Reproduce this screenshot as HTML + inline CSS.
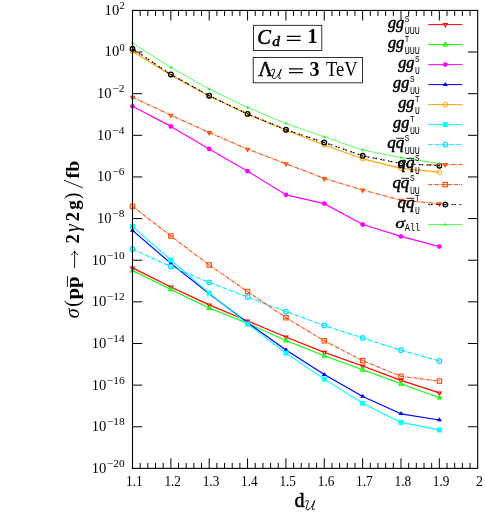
<!DOCTYPE html>
<html><head><meta charset="utf-8"><title>plot</title>
<style>
html,body{margin:0;padding:0;background:#fff;}
body{width:485px;height:512px;overflow:hidden;}
svg{display:block;will-change:transform;}
text{font-family:"Liberation Serif",serif;fill:#000;}
.tt{font-family:"Liberation Mono",monospace;}
.bi{font-weight:bold;font-style:italic;}
.b{font-weight:bold;}
.i{font-style:italic;}
.sb{stroke:#000;stroke-width:0.55px;}
.sb2{stroke:#000;stroke-width:0.5px;}
.sb3{stroke:#000;stroke-width:0.35px;}
</style></head><body>
<svg width="485" height="512" viewBox="0 0 485 512">
<rect x="0" y="0" width="485" height="512" fill="#ffffff"/>

<path d="M132.5,52.04 h9.7 M477.7,52.04 h-9.7 M132.5,93.67 h9.7 M477.7,93.67 h-9.7 M132.5,135.31 h9.7 M477.7,135.31 h-9.7 M132.5,176.95 h9.7 M477.7,176.95 h-9.7 M132.5,218.58 h9.7 M477.7,218.58 h-9.7 M132.5,260.22 h9.7 M477.7,260.22 h-9.7 M132.5,301.85 h9.7 M477.7,301.85 h-9.7 M132.5,343.49 h9.7 M477.7,343.49 h-9.7 M132.5,385.13 h9.7 M477.7,385.13 h-9.7 M132.5,426.76 h9.7 M477.7,426.76 h-9.7 M140.17,468.4 v-5.5 M140.17,10.4 v5.5 M147.84,468.4 v-5.5 M147.84,10.4 v5.5 M155.51,468.4 v-5.5 M155.51,10.4 v5.5 M163.18,468.4 v-5.5 M163.18,10.4 v5.5 M170.86,468.4 v-10.1 M170.86,10.4 v10.1 M178.53,468.4 v-5.5 M178.53,10.4 v5.5 M186.20,468.4 v-5.5 M186.20,10.4 v5.5 M193.87,468.4 v-5.5 M193.87,10.4 v5.5 M201.54,468.4 v-5.5 M201.54,10.4 v5.5 M209.21,468.4 v-10.1 M209.21,10.4 v10.1 M216.88,468.4 v-5.5 M216.88,10.4 v5.5 M224.55,468.4 v-5.5 M224.55,10.4 v5.5 M232.22,468.4 v-5.5 M232.22,10.4 v5.5 M239.90,468.4 v-5.5 M239.90,10.4 v5.5 M247.57,468.4 v-10.1 M247.57,10.4 v10.1 M255.24,468.4 v-5.5 M255.24,10.4 v5.5 M262.91,468.4 v-5.5 M262.91,10.4 v5.5 M270.58,468.4 v-5.5 M270.58,10.4 v5.5 M278.25,468.4 v-5.5 M278.25,10.4 v5.5 M285.92,468.4 v-10.1 M285.92,10.4 v10.1 M293.59,468.4 v-5.5 M293.59,10.4 v5.5 M301.26,468.4 v-5.5 M301.26,10.4 v5.5 M308.94,468.4 v-5.5 M308.94,10.4 v5.5 M316.61,468.4 v-5.5 M316.61,10.4 v5.5 M324.28,468.4 v-10.1 M324.28,10.4 v10.1 M331.95,468.4 v-5.5 M331.95,10.4 v5.5 M339.62,468.4 v-5.5 M339.62,10.4 v5.5 M347.29,468.4 v-5.5 M347.29,10.4 v5.5 M354.96,468.4 v-5.5 M354.96,10.4 v5.5 M362.63,468.4 v-10.1 M362.63,10.4 v10.1 M370.30,468.4 v-5.5 M370.30,10.4 v5.5 M377.98,468.4 v-5.5 M377.98,10.4 v5.5 M385.65,468.4 v-5.5 M385.65,10.4 v5.5 M393.32,468.4 v-5.5 M393.32,10.4 v5.5 M400.99,468.4 v-10.1 M400.99,10.4 v10.1 M408.66,468.4 v-5.5 M408.66,10.4 v5.5 M416.33,468.4 v-5.5 M416.33,10.4 v5.5 M424.00,468.4 v-5.5 M424.00,10.4 v5.5 M431.67,468.4 v-5.5 M431.67,10.4 v5.5 M439.34,468.4 v-10.1 M439.34,10.4 v10.1 M447.02,468.4 v-5.5 M447.02,10.4 v5.5 M454.69,468.4 v-5.5 M454.69,10.4 v5.5 M462.36,468.4 v-5.5 M462.36,10.4 v5.5 M470.03,468.4 v-5.5 M470.03,10.4 v5.5" stroke="#000" stroke-width="1" fill="none"/>
<polyline points="132.5,267.9 170.9,287.0 209.2,304.9 247.6,321.0 286.0,337.0 324.3,352.3 362.7,366.0 401.0,380.3 439.4,392.9" fill="none" stroke="#ff0000" stroke-width="1.25" stroke-linejoin="round"/>
<path d="M129.60,266.40 L135.40,266.40 L132.50,271.30 Z" fill="#ff0000"/><path d="M131.63,267.54 L133.37,267.54 L132.50,269.01 Z" fill="#ffc0c0"/>
<path d="M168.00,285.50 L173.80,285.50 L170.90,290.40 Z" fill="#ff0000"/><path d="M170.03,286.64 L171.77,286.64 L170.90,288.11 Z" fill="#ffc0c0"/>
<path d="M206.30,303.40 L212.10,303.40 L209.20,308.30 Z" fill="#ff0000"/><path d="M208.33,304.54 L210.07,304.54 L209.20,306.01 Z" fill="#ffc0c0"/>
<path d="M244.70,319.50 L250.50,319.50 L247.60,324.40 Z" fill="#ff0000"/><path d="M246.73,320.64 L248.47,320.64 L247.60,322.11 Z" fill="#ffc0c0"/>
<path d="M283.10,335.50 L288.90,335.50 L286.00,340.40 Z" fill="#ff0000"/><path d="M285.13,336.64 L286.87,336.64 L286.00,338.11 Z" fill="#ffc0c0"/>
<path d="M321.40,350.80 L327.20,350.80 L324.30,355.70 Z" fill="#ff0000"/><path d="M323.43,351.94 L325.17,351.94 L324.30,353.41 Z" fill="#ffc0c0"/>
<path d="M359.80,364.50 L365.60,364.50 L362.70,369.40 Z" fill="#ff0000"/><path d="M361.83,365.64 L363.57,365.64 L362.70,367.11 Z" fill="#ffc0c0"/>
<path d="M398.10,378.80 L403.90,378.80 L401.00,383.70 Z" fill="#ff0000"/><path d="M400.13,379.94 L401.87,379.94 L401.00,381.41 Z" fill="#ffc0c0"/>
<path d="M436.50,391.40 L442.30,391.40 L439.40,396.30 Z" fill="#ff0000"/><path d="M438.53,392.54 L440.27,392.54 L439.40,394.01 Z" fill="#ffc0c0"/>
<polyline points="132.5,270.6 170.9,289.4 209.2,308.1 247.6,323.4 286.0,340.5 324.3,355.8 362.7,369.8 401.0,383.8 439.4,397.7" fill="none" stroke="#00ff00" stroke-width="1.1" stroke-linejoin="round"/>
<path d="M129.60,272.50 L135.40,272.50 L132.50,267.10 Z" fill="#00ff00"/><path d="M131.63,271.24 L133.37,271.24 L132.50,269.62 Z" fill="#c0ffc0"/>
<path d="M168.00,291.30 L173.80,291.30 L170.90,285.90 Z" fill="#00ff00"/><path d="M170.03,290.04 L171.77,290.04 L170.90,288.42 Z" fill="#c0ffc0"/>
<path d="M206.30,310.00 L212.10,310.00 L209.20,304.60 Z" fill="#00ff00"/><path d="M208.33,308.74 L210.07,308.74 L209.20,307.12 Z" fill="#c0ffc0"/>
<path d="M244.70,325.30 L250.50,325.30 L247.60,319.90 Z" fill="#00ff00"/><path d="M246.73,324.04 L248.47,324.04 L247.60,322.42 Z" fill="#c0ffc0"/>
<path d="M283.10,342.40 L288.90,342.40 L286.00,337.00 Z" fill="#00ff00"/><path d="M285.13,341.14 L286.87,341.14 L286.00,339.52 Z" fill="#c0ffc0"/>
<path d="M321.40,357.70 L327.20,357.70 L324.30,352.30 Z" fill="#00ff00"/><path d="M323.43,356.44 L325.17,356.44 L324.30,354.82 Z" fill="#c0ffc0"/>
<path d="M359.80,371.70 L365.60,371.70 L362.70,366.30 Z" fill="#00ff00"/><path d="M361.83,370.44 L363.57,370.44 L362.70,368.82 Z" fill="#c0ffc0"/>
<path d="M398.10,385.70 L403.90,385.70 L401.00,380.30 Z" fill="#00ff00"/><path d="M400.13,384.44 L401.87,384.44 L401.00,382.82 Z" fill="#c0ffc0"/>
<path d="M436.50,399.60 L442.30,399.60 L439.40,394.20 Z" fill="#00ff00"/><path d="M438.53,398.34 L440.27,398.34 L439.40,396.72 Z" fill="#c0ffc0"/>
<polyline points="132.5,106.3 170.9,126.4 209.2,148.9 247.6,171.2 286.0,194.8 324.3,203.6 362.7,224.5 401.0,236.4 439.4,246.6" fill="none" stroke="#ff00ff" stroke-width="1.2" stroke-linejoin="round"/>
<circle cx="132.5" cy="106.3" r="2.4" fill="#ff00ff"/>
<circle cx="170.9" cy="126.4" r="2.4" fill="#ff00ff"/>
<circle cx="209.2" cy="148.9" r="2.4" fill="#ff00ff"/>
<circle cx="247.6" cy="171.2" r="2.4" fill="#ff00ff"/>
<circle cx="286.0" cy="194.8" r="2.4" fill="#ff00ff"/>
<circle cx="324.3" cy="203.6" r="2.4" fill="#ff00ff"/>
<circle cx="362.7" cy="224.5" r="2.4" fill="#ff00ff"/>
<circle cx="401.0" cy="236.4" r="2.4" fill="#ff00ff"/>
<circle cx="439.4" cy="246.6" r="2.4" fill="#ff00ff"/>
<polyline points="132.5,230.4 170.9,263.4 209.2,293.7 247.6,322.7 286.0,349.9 324.3,374.6 362.7,396.5 401.0,413.8 439.4,420.0" fill="none" stroke="#0000ff" stroke-width="1.2" stroke-linejoin="round"/>
<path d="M129.90,231.70 L135.10,231.70 L132.50,227.70 Z" fill="#0000ff"/>
<path d="M168.30,264.70 L173.50,264.70 L170.90,260.70 Z" fill="#0000ff"/>
<path d="M206.60,295.00 L211.80,295.00 L209.20,291.00 Z" fill="#0000ff"/>
<path d="M245.00,324.00 L250.20,324.00 L247.60,320.00 Z" fill="#0000ff"/>
<path d="M283.40,351.20 L288.60,351.20 L286.00,347.20 Z" fill="#0000ff"/>
<path d="M321.70,375.90 L326.90,375.90 L324.30,371.90 Z" fill="#0000ff"/>
<path d="M360.10,397.80 L365.30,397.80 L362.70,393.80 Z" fill="#0000ff"/>
<path d="M398.40,415.10 L403.60,415.10 L401.00,411.10 Z" fill="#0000ff"/>
<path d="M436.80,421.30 L442.00,421.30 L439.40,417.30 Z" fill="#0000ff"/>
<polyline points="132.5,51.4 170.9,75.0 209.2,96.0 247.6,114.3 286.0,130.2 324.3,145.0 362.7,158.8 401.0,168.3 439.4,172.1" fill="none" stroke="#ffa500" stroke-width="1.2" stroke-linejoin="round"/>
<circle cx="132.5" cy="51.4" r="2.35" fill="none" stroke="#ffa500" stroke-width="1"/>
<circle cx="170.9" cy="75.0" r="2.35" fill="none" stroke="#ffa500" stroke-width="1"/>
<circle cx="209.2" cy="96.0" r="2.35" fill="none" stroke="#ffa500" stroke-width="1"/>
<circle cx="247.6" cy="114.3" r="2.35" fill="none" stroke="#ffa500" stroke-width="1"/>
<circle cx="286.0" cy="130.2" r="2.35" fill="none" stroke="#ffa500" stroke-width="1"/>
<circle cx="324.3" cy="145.0" r="2.35" fill="none" stroke="#ffa500" stroke-width="1"/>
<circle cx="362.7" cy="158.8" r="2.35" fill="none" stroke="#ffa500" stroke-width="1"/>
<circle cx="401.0" cy="168.3" r="2.35" fill="none" stroke="#ffa500" stroke-width="1"/>
<circle cx="439.4" cy="172.1" r="2.35" fill="none" stroke="#ffa500" stroke-width="1"/>
<polyline points="132.5,226.4 170.9,260.1 209.2,293.1 247.6,324.0 286.0,353.1 324.3,379.1 362.7,403.3 401.0,422.4 439.4,429.9" fill="none" stroke="#00ffff" stroke-width="1.1" stroke-linejoin="round"/>
<rect x="130.0" y="223.9" width="5" height="5" fill="#00ffff"/>
<rect x="168.4" y="257.6" width="5" height="5" fill="#00ffff"/>
<rect x="206.7" y="290.6" width="5" height="5" fill="#00ffff"/>
<rect x="245.1" y="321.5" width="5" height="5" fill="#00ffff"/>
<rect x="283.5" y="350.6" width="5" height="5" fill="#00ffff"/>
<rect x="321.8" y="376.6" width="5" height="5" fill="#00ffff"/>
<rect x="360.2" y="400.8" width="5" height="5" fill="#00ffff"/>
<rect x="398.5" y="419.9" width="5" height="5" fill="#00ffff"/>
<rect x="436.9" y="427.4" width="5" height="5" fill="#00ffff"/>
<polyline points="132.5,249.2 170.9,266.6 209.2,282.4 247.6,297.1 286.0,311.6 324.3,325.5 362.7,338.0 401.0,350.3 439.4,361.0" fill="none" stroke="#00e5ff" stroke-width="1.15" stroke-dasharray="4.2 1 0.8 1" stroke-linejoin="round"/>
<circle cx="132.5" cy="249.2" r="2.35" fill="none" stroke="#00e5ff" stroke-width="1.2"/><circle cx="132.5" cy="249.2" r="0.7" fill="#00e5ff"/>
<circle cx="170.9" cy="266.6" r="2.35" fill="none" stroke="#00e5ff" stroke-width="1.2"/><circle cx="170.9" cy="266.6" r="0.7" fill="#00e5ff"/>
<circle cx="209.2" cy="282.4" r="2.35" fill="none" stroke="#00e5ff" stroke-width="1.2"/><circle cx="209.2" cy="282.4" r="0.7" fill="#00e5ff"/>
<circle cx="247.6" cy="297.1" r="2.35" fill="none" stroke="#00e5ff" stroke-width="1.2"/><circle cx="247.6" cy="297.1" r="0.7" fill="#00e5ff"/>
<circle cx="286.0" cy="311.6" r="2.35" fill="none" stroke="#00e5ff" stroke-width="1.2"/><circle cx="286.0" cy="311.6" r="0.7" fill="#00e5ff"/>
<circle cx="324.3" cy="325.5" r="2.35" fill="none" stroke="#00e5ff" stroke-width="1.2"/><circle cx="324.3" cy="325.5" r="0.7" fill="#00e5ff"/>
<circle cx="362.7" cy="338.0" r="2.35" fill="none" stroke="#00e5ff" stroke-width="1.2"/><circle cx="362.7" cy="338.0" r="0.7" fill="#00e5ff"/>
<circle cx="401.0" cy="350.3" r="2.35" fill="none" stroke="#00e5ff" stroke-width="1.2"/><circle cx="401.0" cy="350.3" r="0.7" fill="#00e5ff"/>
<circle cx="439.4" cy="361.0" r="2.35" fill="none" stroke="#00e5ff" stroke-width="1.2"/><circle cx="439.4" cy="361.0" r="0.7" fill="#00e5ff"/>
<polyline points="132.5,97.3 170.9,115.2 209.2,132.5 247.6,149.2 286.0,163.7 324.3,178.5 362.7,190.0 401.0,200.2 439.4,203.7" fill="none" stroke="#ff4500" stroke-width="1.1" stroke-dasharray="4.2 0.7 0.7 0.7 0.7 0.7" stroke-linejoin="round"/>
<path d="M129.60,95.80 L135.40,95.80 L132.50,100.70 Z" fill="#ff4500"/><path d="M131.63,96.94 L133.37,96.94 L132.50,98.41 Z" fill="#ffa070"/>
<path d="M168.00,113.70 L173.80,113.70 L170.90,118.60 Z" fill="#ff4500"/><path d="M170.03,114.84 L171.77,114.84 L170.90,116.31 Z" fill="#ffa070"/>
<path d="M206.30,131.00 L212.10,131.00 L209.20,135.90 Z" fill="#ff4500"/><path d="M208.33,132.14 L210.07,132.14 L209.20,133.61 Z" fill="#ffa070"/>
<path d="M244.70,147.70 L250.50,147.70 L247.60,152.60 Z" fill="#ff4500"/><path d="M246.73,148.84 L248.47,148.84 L247.60,150.31 Z" fill="#ffa070"/>
<path d="M283.10,162.20 L288.90,162.20 L286.00,167.10 Z" fill="#ff4500"/><path d="M285.13,163.34 L286.87,163.34 L286.00,164.81 Z" fill="#ffa070"/>
<path d="M321.40,177.00 L327.20,177.00 L324.30,181.90 Z" fill="#ff4500"/><path d="M323.43,178.14 L325.17,178.14 L324.30,179.61 Z" fill="#ffa070"/>
<path d="M359.80,188.50 L365.60,188.50 L362.70,193.40 Z" fill="#ff4500"/><path d="M361.83,189.64 L363.57,189.64 L362.70,191.11 Z" fill="#ffa070"/>
<path d="M398.10,198.70 L403.90,198.70 L401.00,203.60 Z" fill="#ff4500"/><path d="M400.13,199.84 L401.87,199.84 L401.00,201.31 Z" fill="#ffa070"/>
<path d="M436.50,202.20 L442.30,202.20 L439.40,207.10 Z" fill="#ff4500"/><path d="M438.53,203.34 L440.27,203.34 L439.40,204.81 Z" fill="#ffa070"/>
<polyline points="132.5,206.3 170.9,236.0 209.2,265.0 247.6,291.6 286.0,317.7 324.3,340.8 362.7,360.7 401.0,376.3 439.4,381.1" fill="none" stroke="#ff4500" stroke-width="1.05" stroke-dasharray="3.8 0.9 0.9 0.9" stroke-linejoin="round"/>
<rect x="130.3" y="204.1" width="4.4" height="4.4" fill="none" stroke="#ff4500" stroke-width="1.1"/><circle cx="132.5" cy="206.3" r="0.7" fill="#ff4500"/>
<rect x="168.7" y="233.8" width="4.4" height="4.4" fill="none" stroke="#ff4500" stroke-width="1.1"/><circle cx="170.9" cy="236.0" r="0.7" fill="#ff4500"/>
<rect x="207.0" y="262.8" width="4.4" height="4.4" fill="none" stroke="#ff4500" stroke-width="1.1"/><circle cx="209.2" cy="265.0" r="0.7" fill="#ff4500"/>
<rect x="245.4" y="289.4" width="4.4" height="4.4" fill="none" stroke="#ff4500" stroke-width="1.1"/><circle cx="247.6" cy="291.6" r="0.7" fill="#ff4500"/>
<rect x="283.8" y="315.5" width="4.4" height="4.4" fill="none" stroke="#ff4500" stroke-width="1.1"/><circle cx="286.0" cy="317.7" r="0.7" fill="#ff4500"/>
<rect x="322.1" y="338.6" width="4.4" height="4.4" fill="none" stroke="#ff4500" stroke-width="1.1"/><circle cx="324.3" cy="340.8" r="0.7" fill="#ff4500"/>
<rect x="360.5" y="358.5" width="4.4" height="4.4" fill="none" stroke="#ff4500" stroke-width="1.1"/><circle cx="362.7" cy="360.7" r="0.7" fill="#ff4500"/>
<rect x="398.8" y="374.1" width="4.4" height="4.4" fill="none" stroke="#ff4500" stroke-width="1.1"/><circle cx="401.0" cy="376.3" r="0.7" fill="#ff4500"/>
<rect x="437.2" y="378.9" width="4.4" height="4.4" fill="none" stroke="#ff4500" stroke-width="1.1"/><circle cx="439.4" cy="381.1" r="0.7" fill="#ff4500"/>
<polyline points="132.5,48.8 170.9,74.5 209.2,95.7 247.6,113.9 286.0,129.7 324.3,142.5 362.7,155.8 401.0,163.5 439.4,165.7" fill="none" stroke="#000000" stroke-width="1.2" stroke-dasharray="1.8 0.8 1.8 3.4" stroke-linejoin="round"/>
<circle cx="132.5" cy="48.8" r="2.3" fill="none" stroke="#000000" stroke-width="1.3"/><circle cx="132.5" cy="48.8" r="0.7" fill="#000000"/>
<circle cx="170.9" cy="74.5" r="2.3" fill="none" stroke="#000000" stroke-width="1.3"/><circle cx="170.9" cy="74.5" r="0.7" fill="#000000"/>
<circle cx="209.2" cy="95.7" r="2.3" fill="none" stroke="#000000" stroke-width="1.3"/><circle cx="209.2" cy="95.7" r="0.7" fill="#000000"/>
<circle cx="247.6" cy="113.9" r="2.3" fill="none" stroke="#000000" stroke-width="1.3"/><circle cx="247.6" cy="113.9" r="0.7" fill="#000000"/>
<circle cx="286.0" cy="129.7" r="2.3" fill="none" stroke="#000000" stroke-width="1.3"/><circle cx="286.0" cy="129.7" r="0.7" fill="#000000"/>
<circle cx="324.3" cy="142.5" r="2.3" fill="none" stroke="#000000" stroke-width="1.3"/><circle cx="324.3" cy="142.5" r="0.7" fill="#000000"/>
<circle cx="362.7" cy="155.8" r="2.3" fill="none" stroke="#000000" stroke-width="1.3"/><circle cx="362.7" cy="155.8" r="0.7" fill="#000000"/>
<circle cx="401.0" cy="163.5" r="2.3" fill="none" stroke="#000000" stroke-width="1.3"/><circle cx="401.0" cy="163.5" r="0.7" fill="#000000"/>
<circle cx="439.4" cy="165.7" r="2.3" fill="none" stroke="#000000" stroke-width="1.3"/><circle cx="439.4" cy="165.7" r="0.7" fill="#000000"/>
<polyline points="132.5,42.9 170.9,67.5 209.2,89.0 247.6,107.5 286.0,123.5 324.3,136.9 362.7,150.0 401.0,157.6 439.4,163.5" fill="none" stroke="#00ff00" stroke-width="0.65" stroke-linejoin="round"/>
<path d="M131.0,42.9 H134.0 M132.5,41.4 V44.4" stroke="#00ff00" stroke-width="0.8" fill="none"/>
<path d="M169.4,67.5 H172.4 M170.9,66.0 V69.0" stroke="#00ff00" stroke-width="0.8" fill="none"/>
<path d="M207.7,89.0 H210.7 M209.2,87.5 V90.5" stroke="#00ff00" stroke-width="0.8" fill="none"/>
<path d="M246.1,107.5 H249.1 M247.6,106.0 V109.0" stroke="#00ff00" stroke-width="0.8" fill="none"/>
<path d="M284.5,123.5 H287.5 M286.0,122.0 V125.0" stroke="#00ff00" stroke-width="0.8" fill="none"/>
<path d="M322.8,136.9 H325.8 M324.3,135.4 V138.4" stroke="#00ff00" stroke-width="0.8" fill="none"/>
<path d="M361.2,150.0 H364.2 M362.7,148.5 V151.5" stroke="#00ff00" stroke-width="0.8" fill="none"/>
<path d="M399.5,157.6 H402.5 M401.0,156.1 V159.1" stroke="#00ff00" stroke-width="0.8" fill="none"/>
<path d="M437.9,163.5 H440.9 M439.4,162.0 V165.0" stroke="#00ff00" stroke-width="0.8" fill="none"/>
<rect x="132.5" y="10.4" width="345.2" height="458.0" fill="none" stroke="#000" stroke-width="1.1"/>
<path d="M428.3,24.6 H462.3" stroke="#ff0000" stroke-width="1.0" fill="none"/>
<path d="M442.40,23.10 L448.20,23.10 L445.30,28.00 Z" fill="#ff0000"/><path d="M444.43,24.24 L446.17,24.24 L445.30,25.71 Z" fill="#ffc0c0"/>
<text x="404.1" y="28.4" text-anchor="end" class="i sb2" font-size="16.4" textLength="16.2" lengthAdjust="spacingAndGlyphs">gg</text>
<text x="404.8" y="22.4" class="tt" font-size="9.5" textLength="4.6" lengthAdjust="spacingAndGlyphs">S</text>
<text x="404.8" y="33.5" class="tt" font-size="10.5" textLength="15.1" lengthAdjust="spacingAndGlyphs">UUU</text>
<path d="M428.3,44.6 H462.3" stroke="#00ff00" stroke-width="1.0" fill="none"/>
<path d="M442.40,46.50 L448.20,46.50 L445.30,41.10 Z" fill="#00ff00"/><path d="M444.43,45.24 L446.17,45.24 L445.30,43.62 Z" fill="#c0ffc0"/>
<text x="404.1" y="48.4" text-anchor="end" class="i sb2" font-size="16.4" textLength="16.2" lengthAdjust="spacingAndGlyphs">gg</text>
<text x="404.8" y="42.4" class="tt" font-size="9.5" textLength="4.6" lengthAdjust="spacingAndGlyphs">T</text>
<text x="404.8" y="53.5" class="tt" font-size="10.5" textLength="15.1" lengthAdjust="spacingAndGlyphs">UUU</text>
<path d="M428.3,64.6 H462.3" stroke="#ff00ff" stroke-width="1.0" fill="none"/>
<circle cx="445.3" cy="64.6" r="2.4" fill="#ff00ff"/>
<text x="414.4" y="68.4" text-anchor="end" class="i sb2" font-size="16.4" textLength="16.2" lengthAdjust="spacingAndGlyphs">gg</text>
<text x="415.1" y="62.4" class="tt" font-size="9.5" textLength="4.6" lengthAdjust="spacingAndGlyphs">S</text>
<text x="415.1" y="73.5" class="tt" font-size="10.5" textLength="4.8" lengthAdjust="spacingAndGlyphs">U</text>
<path d="M428.3,84.6 H462.3" stroke="#0000ff" stroke-width="1.0" fill="none"/>
<path d="M442.70,85.90 L447.90,85.90 L445.30,81.90 Z" fill="#0000ff"/>
<text x="409.3" y="88.4" text-anchor="end" class="i sb2" font-size="16.4" textLength="16.2" lengthAdjust="spacingAndGlyphs">gg</text>
<text x="409.9" y="82.4" class="tt" font-size="9.5" textLength="4.6" lengthAdjust="spacingAndGlyphs">S</text>
<text x="409.9" y="93.5" class="tt" font-size="10.5" textLength="9.9" lengthAdjust="spacingAndGlyphs">UU</text>
<path d="M428.3,104.6 H462.3" stroke="#ffa500" stroke-width="1.0" fill="none"/>
<circle cx="445.3" cy="104.6" r="2.35" fill="none" stroke="#ffa500" stroke-width="1"/>
<text x="414.4" y="108.4" text-anchor="end" class="i sb2" font-size="16.4" textLength="16.2" lengthAdjust="spacingAndGlyphs">gg</text>
<text x="415.1" y="102.4" class="tt" font-size="9.5" textLength="4.6" lengthAdjust="spacingAndGlyphs">T</text>
<text x="415.1" y="113.5" class="tt" font-size="10.5" textLength="4.8" lengthAdjust="spacingAndGlyphs">U</text>
<path d="M428.3,124.6 H462.3" stroke="#00ffff" stroke-width="1.0" fill="none"/>
<rect x="442.8" y="122.1" width="5" height="5" fill="#00ffff"/>
<text x="409.3" y="128.4" text-anchor="end" class="i sb2" font-size="16.4" textLength="16.2" lengthAdjust="spacingAndGlyphs">gg</text>
<text x="409.9" y="122.4" class="tt" font-size="9.5" textLength="4.6" lengthAdjust="spacingAndGlyphs">T</text>
<text x="409.9" y="133.5" class="tt" font-size="10.5" textLength="9.9" lengthAdjust="spacingAndGlyphs">UU</text>
<path d="M428.3,144.6 H462.3" stroke="#00e5ff" stroke-width="1.0" stroke-dasharray="4.2 1 0.8 1" fill="none"/>
<circle cx="445.3" cy="144.6" r="2.35" fill="none" stroke="#00e5ff" stroke-width="1.2"/><circle cx="445.3" cy="144.6" r="0.7" fill="#00e5ff"/>
<text x="404.1" y="148.2" text-anchor="end" class="i sb2" font-size="17" textLength="16.9" lengthAdjust="spacingAndGlyphs">qq</text>
<path d="M396.1,138.3 h7.9" stroke="#000" stroke-width="0.85"/>
<text x="404.8" y="141.1" class="tt" font-size="9.5" textLength="4.6" lengthAdjust="spacingAndGlyphs">S</text>
<text x="404.8" y="153.5" class="tt" font-size="10.5" textLength="15.1" lengthAdjust="spacingAndGlyphs">UUU</text>
<path d="M428.3,164.6 H462.3" stroke="#ff4500" stroke-width="1.0" stroke-dasharray="4.2 0.7 0.7 0.7 0.7 0.7" fill="none"/>
<path d="M442.40,163.10 L448.20,163.10 L445.30,168.00 Z" fill="#ff4500"/><path d="M444.43,164.24 L446.17,164.24 L445.30,165.71 Z" fill="#ffa070"/>
<text x="414.4" y="168.2" text-anchor="end" class="i sb2" font-size="17" textLength="16.9" lengthAdjust="spacingAndGlyphs">qq</text>
<path d="M406.4,158.3 h7.9" stroke="#000" stroke-width="0.85"/>
<text x="415.1" y="161.1" class="tt" font-size="9.5" textLength="4.6" lengthAdjust="spacingAndGlyphs">S</text>
<text x="415.1" y="173.5" class="tt" font-size="10.5" textLength="4.8" lengthAdjust="spacingAndGlyphs">U</text>
<path d="M428.3,184.6 H462.3" stroke="#ff4500" stroke-width="1.0" stroke-dasharray="3.8 0.9 0.9 0.9" fill="none"/>
<rect x="443.1" y="182.4" width="4.4" height="4.4" fill="none" stroke="#ff4500" stroke-width="1.1"/><circle cx="445.3" cy="184.6" r="0.7" fill="#ff4500"/>
<text x="409.3" y="188.2" text-anchor="end" class="i sb2" font-size="17" textLength="16.9" lengthAdjust="spacingAndGlyphs">qq</text>
<path d="M401.3,178.3 h7.9" stroke="#000" stroke-width="0.85"/>
<text x="409.9" y="181.1" class="tt" font-size="9.5" textLength="4.6" lengthAdjust="spacingAndGlyphs">S</text>
<text x="409.9" y="193.5" class="tt" font-size="10.5" textLength="9.9" lengthAdjust="spacingAndGlyphs">UU</text>
<path d="M428.3,204.6 H462.3" stroke="#000000" stroke-width="1.0" stroke-dasharray="1.8 0.8 1.8 3.4" fill="none"/>
<circle cx="445.3" cy="204.6" r="2.3" fill="none" stroke="#000000" stroke-width="1.3"/><circle cx="445.3" cy="204.6" r="0.7" fill="#000000"/>
<text x="414.4" y="208.2" text-anchor="end" class="i sb2" font-size="17" textLength="16.9" lengthAdjust="spacingAndGlyphs">qq</text>
<path d="M406.4,198.3 h7.9" stroke="#000" stroke-width="0.85"/>
<text x="415.1" y="201.1" class="tt" font-size="9.5" textLength="4.6" lengthAdjust="spacingAndGlyphs">T</text>
<text x="415.1" y="213.5" class="tt" font-size="10.5" textLength="4.8" lengthAdjust="spacingAndGlyphs">U</text>
<path d="M428.3,224.6 H462.3" stroke="#00ff00" stroke-width="0.75" fill="none"/>
<path d="M443.8,224.6 H446.8 M445.3,223.1 V226.1" stroke="#00ff00" stroke-width="0.8" fill="none"/>
<text x="404.8" y="227.8" text-anchor="end" class="i sb3" font-size="15.5" textLength="9.6" lengthAdjust="spacingAndGlyphs">σ</text>
<text x="404.8" y="230.8" class="tt" font-size="10.5" textLength="15.4" lengthAdjust="spacingAndGlyphs">All</text>
<text x="119.2" y="14.8" text-anchor="end" font-size="15" textLength="14.6" lengthAdjust="spacingAndGlyphs">10</text>
<text x="119.4" y="8.9" font-size="11" textLength="5.2" lengthAdjust="spacingAndGlyphs">2</text>
<text x="119.2" y="56.4" text-anchor="end" font-size="15" textLength="14.6" lengthAdjust="spacingAndGlyphs">10</text>
<text x="119.4" y="50.5" font-size="11" textLength="5.2" lengthAdjust="spacingAndGlyphs">0</text>
<text x="111.6" y="98.1" text-anchor="end" font-size="15" textLength="14.6" lengthAdjust="spacingAndGlyphs">10</text>
<text x="112.2" y="92.2" font-size="11" textLength="12.2" lengthAdjust="spacingAndGlyphs">−2</text>
<text x="111.6" y="139.7" text-anchor="end" font-size="15" textLength="14.6" lengthAdjust="spacingAndGlyphs">10</text>
<text x="112.2" y="133.8" font-size="11" textLength="12.2" lengthAdjust="spacingAndGlyphs">−4</text>
<text x="111.6" y="181.3" text-anchor="end" font-size="15" textLength="14.6" lengthAdjust="spacingAndGlyphs">10</text>
<text x="112.2" y="175.4" font-size="11" textLength="12.2" lengthAdjust="spacingAndGlyphs">−6</text>
<text x="111.6" y="223.0" text-anchor="end" font-size="15" textLength="14.6" lengthAdjust="spacingAndGlyphs">10</text>
<text x="112.2" y="217.1" font-size="11" textLength="12.2" lengthAdjust="spacingAndGlyphs">−8</text>
<text x="106.3" y="264.6" text-anchor="end" font-size="15" textLength="14.6" lengthAdjust="spacingAndGlyphs">10</text>
<text x="106.8" y="258.7" font-size="11" textLength="17.9" lengthAdjust="spacingAndGlyphs">−10</text>
<text x="106.3" y="306.3" text-anchor="end" font-size="15" textLength="14.6" lengthAdjust="spacingAndGlyphs">10</text>
<text x="106.8" y="300.4" font-size="11" textLength="17.9" lengthAdjust="spacingAndGlyphs">−12</text>
<text x="106.3" y="347.9" text-anchor="end" font-size="15" textLength="14.6" lengthAdjust="spacingAndGlyphs">10</text>
<text x="106.8" y="342.0" font-size="11" textLength="17.9" lengthAdjust="spacingAndGlyphs">−14</text>
<text x="106.3" y="389.5" text-anchor="end" font-size="15" textLength="14.6" lengthAdjust="spacingAndGlyphs">10</text>
<text x="106.8" y="383.6" font-size="11" textLength="17.9" lengthAdjust="spacingAndGlyphs">−16</text>
<text x="106.3" y="431.2" text-anchor="end" font-size="15" textLength="14.6" lengthAdjust="spacingAndGlyphs">10</text>
<text x="106.8" y="425.3" font-size="11" textLength="17.9" lengthAdjust="spacingAndGlyphs">−18</text>
<text x="106.3" y="472.8" text-anchor="end" font-size="15" textLength="14.6" lengthAdjust="spacingAndGlyphs">10</text>
<text x="106.8" y="466.9" font-size="11" textLength="17.9" lengthAdjust="spacingAndGlyphs">−20</text>
<text x="134.3" y="486" text-anchor="middle" font-size="14" textLength="16.6" lengthAdjust="spacingAndGlyphs">1.1</text>
<text x="172.7" y="486" text-anchor="middle" font-size="14" textLength="16.6" lengthAdjust="spacingAndGlyphs">1.2</text>
<text x="211.0" y="486" text-anchor="middle" font-size="14" textLength="16.6" lengthAdjust="spacingAndGlyphs">1.3</text>
<text x="249.4" y="486" text-anchor="middle" font-size="14" textLength="16.6" lengthAdjust="spacingAndGlyphs">1.4</text>
<text x="287.7" y="486" text-anchor="middle" font-size="14" textLength="16.6" lengthAdjust="spacingAndGlyphs">1.5</text>
<text x="326.1" y="486" text-anchor="middle" font-size="14" textLength="16.6" lengthAdjust="spacingAndGlyphs">1.6</text>
<text x="364.4" y="486" text-anchor="middle" font-size="14" textLength="16.6" lengthAdjust="spacingAndGlyphs">1.7</text>
<text x="402.8" y="486" text-anchor="middle" font-size="14" textLength="16.6" lengthAdjust="spacingAndGlyphs">1.8</text>
<text x="441.1" y="486" text-anchor="middle" font-size="14" textLength="16.6" lengthAdjust="spacingAndGlyphs">1.9</text>
<text x="479.5" y="486" text-anchor="middle" font-size="14" >2</text>
<text x="294.6" y="506.7" font-size="20" class="sb">d</text>
<path transform="translate(33.6,431.3)" d="M271.5,70.4 C272.2,69.2 273.6,68.8 274.7,69.3 C275,71 272.7,75 272.5,77 C272.4,78.3 273.4,78.8 274.5,78.5 C277,77.8 279.6,73 281.2,69.2 C280,72.5 278.7,76.5 278.9,77.8 C279,78.6 279.8,78.7 280.7,78.1" stroke="#000" stroke-width="0.95" fill="none" stroke-linecap="round"/>
<g transform="translate(78.5,318.4) rotate(-90)">
<text x="5.2" y="0" text-anchor="middle" class="i" font-size="20">σ</text>
<text x="15.1" y="0.6" text-anchor="middle" class="" font-size="20">(</text>
<text x="30.5" y="0" text-anchor="middle" class="b" font-size="19" textLength="23.4" lengthAdjust="spacingAndGlyphs">pp</text>
<text x="79.5" y="0" text-anchor="middle" class="b" font-size="18.5">2</text>
<text x="90.3" y="0" text-anchor="middle" class="i" font-size="20">γ</text>
<text x="101.7" y="0" text-anchor="middle" class="b" font-size="18.5">2</text>
<text x="113.4" y="0" text-anchor="middle" class="b" font-size="19">g</text>
<text x="122.4" y="0.6" text-anchor="middle" class="" font-size="20">)</text>
<text x="148.8" y="0" text-anchor="middle" class="b" font-size="19" textLength="17.6" lengthAdjust="spacingAndGlyphs">fb</text>
<path d="M31.4,-11.1 H42.4 M50.4,-3.9 H67.2 M130.6,4.2 L138.2,-14.5" stroke="#000" stroke-width="0.9" fill="none"/>
<path d="M63.6,-7.3 C64.4,-5.5 65.8,-4.4 67.5,-3.9 C65.8,-3.4 64.4,-2.3 63.6,-0.5" stroke="#000" stroke-width="0.9" fill="none"/>
</g>
<rect x="253.5" y="25.3" width="68.3" height="25.2" fill="#fff" stroke="#000" stroke-width="0.8"/>
<text x="257.3" y="43.7" font-size="20.5" class="i sb">C</text>
<text x="272.2" y="46.4" font-size="15.5" class="i sb">d</text>
<path d="M286.8,36.4 H300.6 M286.8,40.3 H300.6" stroke="#000" stroke-width="1.3"/>
<text x="312.5" y="43.4" font-size="20" class="b" text-anchor="middle">1</text>
<rect x="253.2" y="57.4" width="109.2" height="25.4" fill="#fff" stroke="#000" stroke-width="0.8"/>
<text x="258.2" y="76" font-size="20.5" class="sb" textLength="14.6" lengthAdjust="spacingAndGlyphs">Λ</text>
<path d="M271.5,70.4 C272.2,69.2 273.6,68.8 274.7,69.3 C275,71 272.7,75 272.5,77 C272.4,78.3 273.4,78.8 274.5,78.5 C277,77.8 279.6,73 281.2,69.2 C280,72.5 278.7,76.5 278.9,77.8 C279,78.6 279.8,78.7 280.7,78.1" stroke="#000" stroke-width="0.95" fill="none" stroke-linecap="round"/>
<path d="M289,68.8 H302.9 M289,72.6 H302.9" stroke="#000" stroke-width="1.3"/>
<text x="314.5" y="75.8" font-size="20" class="b" text-anchor="middle">3</text>
<text x="326" y="76" font-size="20" textLength="31.5" lengthAdjust="spacingAndGlyphs">TeV</text>
</svg></body></html>
